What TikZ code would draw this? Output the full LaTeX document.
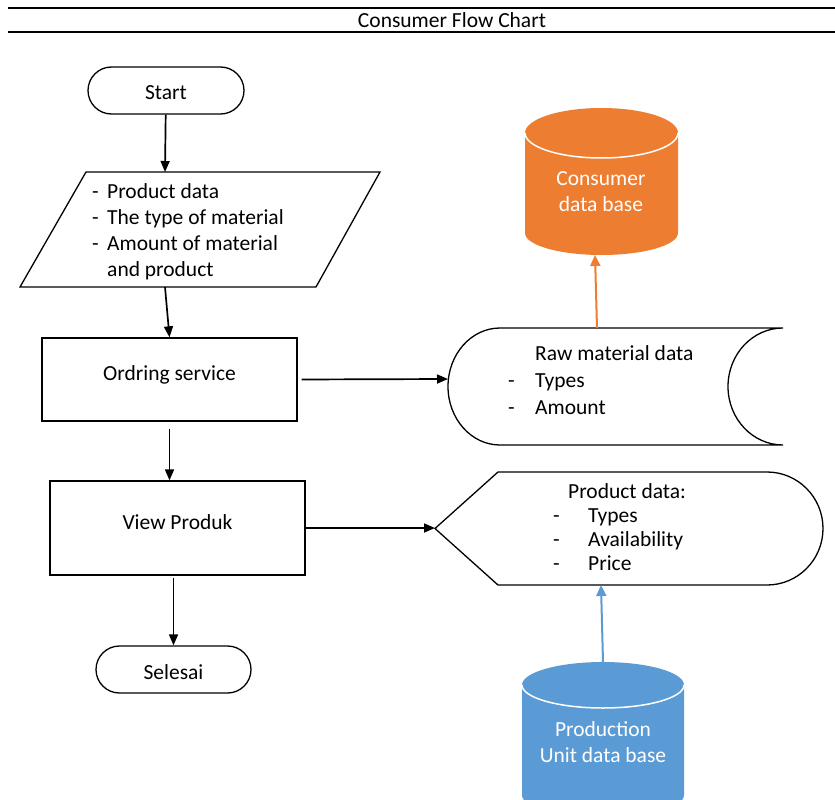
\documentclass[tikz,border=0pt]{standalone}
\usepackage{fontspec}
\setmainfont{Carlito}
\usetikzlibrary{arrows.meta,shapes.misc}
\definecolor{dbOrange}{HTML}{ED7D31}
\definecolor{dbBlue}{HTML}{5B9BD5}
\begin{document}
\begin{tikzpicture}[x=1pt,y=-1pt,
  every node/.style={font=\fontsize{21.5}{26}\selectfont, inner sep=0pt},
  outline/.style={draw=black, line width=1.3pt},
  terminal/.style={outline, rounded rectangle, minimum height=47pt},
  process/.style={outline, rectangle},
  flow/.style={-{Triangle[length=11pt,width=9pt]}, line width=1.7pt},
  dbflow/.style={-{Triangle[length=11pt,width=10pt]}, line width=2pt},
  dbtext/.style={text=white, align=center},
  listbox/.style={anchor=west, align=left}]
\useasboundingbox (0,0) rectangle (835,800);

% title bar
\draw[line width=1.4pt] (8,8) -- (835,8);
\draw[line width=1.4pt] (8,32) -- (835,32);
\node (title) at (452,20.5) {Consumer Flow Chart};

% start / end terminals
\node[terminal, minimum width=156pt] (start) at (166,90.5) {};
\node (startText) at (166,93) {Start};
\node[terminal, minimum width=155pt] (selesai) at (173.5,669.5) {};
\node (selesaiText) at (173.5,672) {Selesai};

% input parallelogram
\draw[outline] (86,172) -- (380,172) -- (316,287) -- (20,287) -- cycle;
\coordinate (inTop) at (165,172);
\coordinate (inBot) at (165,287);
\node[listbox] (inText) at (92,232.5) {\begin{tabular}{@{}p{15pt}@{}l@{}}
- & Product data\\
- & The type of material\\
- & Amount of material\\
  & and product
\end{tabular}};

% process boxes
\node[process, minimum width=255pt, minimum height=83pt] (order) at (169.5,379.5) {};
\node (orderText) at (169.5,375) {Ordring service};
\node[process, minimum width=255pt, minimum height=94pt] (view) at (177.5,528) {};
\node (viewText) at (177.5,522.5) {View Produk};

% raw material data (direct access storage)
\draw[outline] (500,328) -- (783,328)
  arc[start angle=270, end angle=90, x radius=55, y radius=58.5]
  -- (500,445)
  arc[start angle=90, end angle=270, x radius=52, y radius=58.5];
\coordinate (rawLeft) at (448,379);
\coordinate (rawTop) at (597,328);
\node[listbox] (rawText) at (508,382) {\begin{tabular}{@{}p{27pt}@{}l@{}}
  & Raw material data\\[1pt]
- & Types\\[1pt]
- & Amount
\end{tabular}};

% product data display
\draw[outline] (435,528.5) -- (498,472) -- (767,472)
  arc[start angle=270, end angle=450, x radius=56, y radius=56.5]
  -- (498,585) -- cycle;
\coordinate (dispLeft) at (435,528);
\coordinate (dispBot) at (601,585);
\node[listbox, font=\fontsize{21.5}{24}\selectfont] (dispText) at (553,529.5) {\begin{tabular}{@{}p{35pt}@{}l@{}}
\multicolumn{2}{@{}l@{}}{\hspace{15pt}Product data:}\\
- & Types\\
- & Availability\\
- & Price
\end{tabular}};

% consumer data base cylinder
\fill[dbOrange] (525,133) -- (525,233)
  arc[start angle=180, end angle=0, x radius=76.5, y radius=22]
  -- (678,133)
  arc[start angle=0, end angle=-180, x radius=76.5, y radius=25] -- cycle;
\draw[white, line width=1.5pt] (525,133)
  arc[start angle=180, end angle=0, x radius=76.5, y radius=25];
\coordinate (consBot) at (595,255);
\node[dbtext] (consText) at (601,192) {Consumer\\data base};

% production unit data base cylinder
\begin{scope}
\clip (0,0) rectangle (835,800);
\fill[dbBlue] (522,685) -- (522,795)
  arc[start angle=180, end angle=0, x radius=81, y radius=23]
  -- (684,685)
  arc[start angle=0, end angle=-180, x radius=81, y radius=23] -- cycle;
\draw[white, line width=1.5pt] (522,685)
  arc[start angle=180, end angle=0, x radius=81, y radius=23];
\end{scope}
\coordinate (prodTop) at (603,662);
\node[dbtext] (prodText) at (603,742) {Production\\Unit data base};

% connectors
\draw[flow] (start) -- (inTop);
\draw[flow] (inBot) -- (order.north);
\draw[flow, shorten <=4pt] (order.east) -- (rawLeft);
\draw[flow, shorten <=7pt] (order.south) -- (view.north -| order.south);
\draw[flow] (view.east) -- (dispLeft);
\draw[flow, shorten <=2pt] (view.south -| selesai.north) -- (selesai.north);
\draw[dbflow, dbOrange] (rawTop) -- (consBot);
\draw[dbflow, dbBlue] (prodTop) -- (dispBot);
\end{tikzpicture}
\end{document}
